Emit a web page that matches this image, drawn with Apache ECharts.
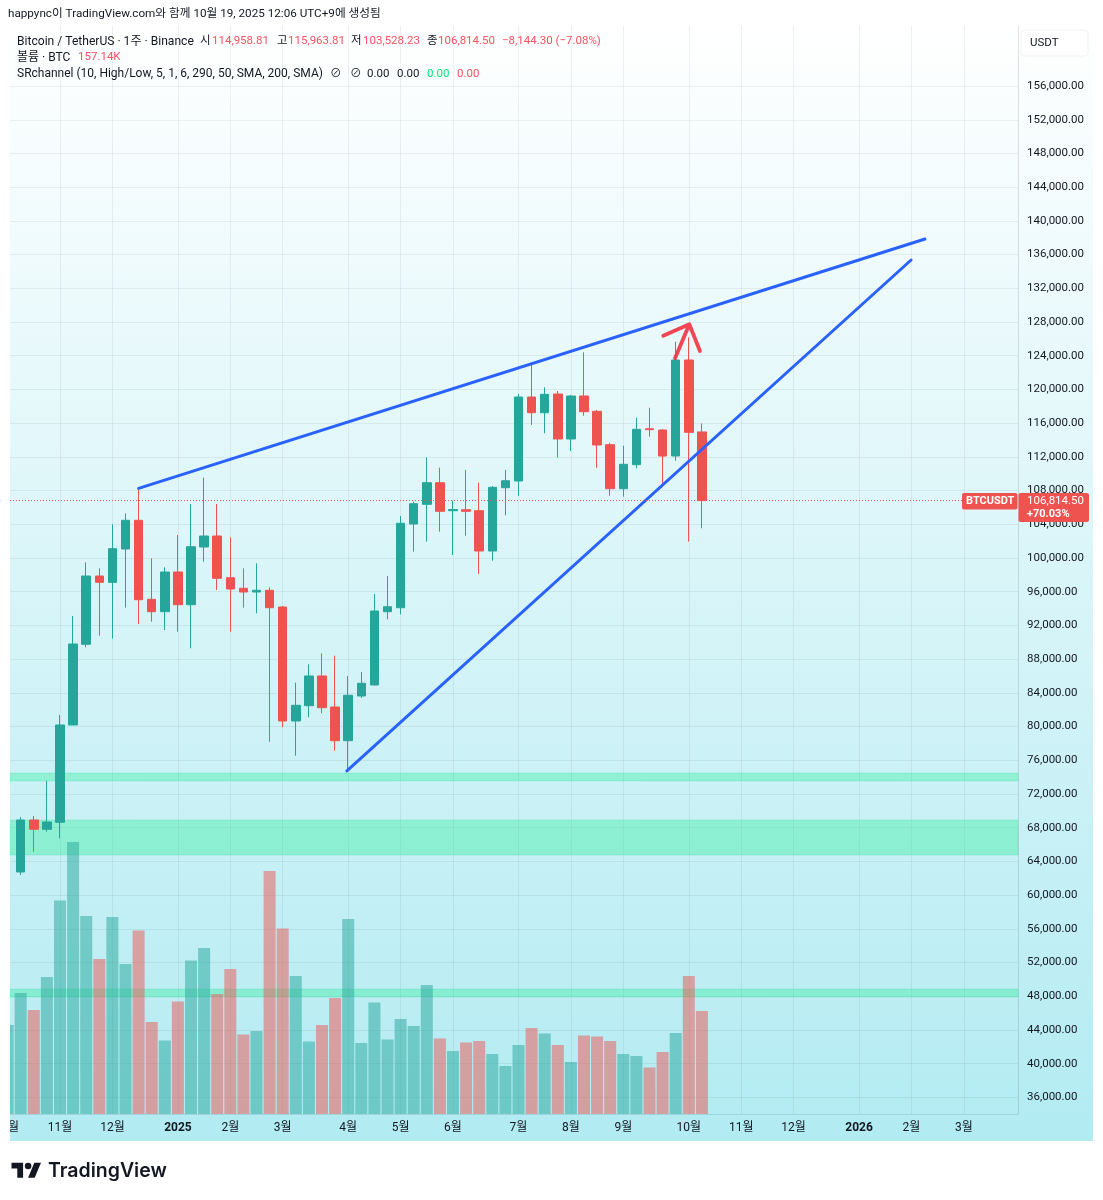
<!DOCTYPE html>
<html><head><meta charset="utf-8">
<style>html,body{margin:0;padding:0;background:#fff}#c{width:1103px;height:1200px}</style>
<script src="https://cdn.jsdelivr.net/npm/echarts@6/dist/echarts.min.js"></script>
</head><body><div id="c"></div>
<script>
// [week index, open, close, low, high]
const candles = [
[0,62744,68914,62388,69270],[1,68914,67811,65155,69389],[2,67811,68677,67526,73577],[3,68641,80186,66743,81372],
[4,80186,89796,80186,93119],[5,89761,97865,89405,99490],[6,97865,97117,90781,98778],[7,97117,101104,90425,103999],
[8,101068,104473,94103,105304],[9,104473,95053,92169,108270],[10,95100,93629,92442,99965],[11,93629,98339,91457,98897],
[12,98339,94459,91256,102729],[13,94459,101341,89286,106407],[14,101305,102611,99561,109528],[15,102611,97592,96203,106407],
[16,97663,96322,91256,102456],[17,96405,95966,94103,98778],[18,95966,96168,93440,99371],[19,96168,94103,78204,96524],
[20,94186,80660,79913,94305],[21,80660,82523,76543,85205],[22,82476,86000,81099,87388],[23,86000,82238,81574,88693],
[24,82321,78323,77136,88408],[25,78323,83710,74640,86000],[26,83627,85133,83389,86474],[27,84932,93712,84900,95729],
[28,93629,94222,92727,97865],[29,94103,104117,93320,104984],[30,104034,106443,100748,106680],[31,106372,108935,101934,111948],
[32,108935,105541,103121,110714],[33,105612,105755,100356,106799],[34,105731,105541,102646,110441],[35,105612,100831,98102,108935],
[36,100831,108389,99680,108543],[37,108341,109172,105067,110441],[38,109136,119103,107392,119459],[39,119103,117240,115781,123173],
[40,117240,119423,114796,120254],[41,119459,114120,111901,119815],[42,114120,119222,112696,119340],[43,119222,117359,116884,124407],
[44,117406,113408,110715,117560],[45,113443,108223,107392,113681],[46,108223,111118,107274,113325],[47,111070,115271,110643,116647],
[48,115342,115223,114392,117833],[49,115187,112103,108863,115271],[50,112103,123493,111545,125664],[51,123493,114915,101934,126187],
[52,114958.81,106814.5,103528.23,115963.81]
];
// volume in thousands of BTC, from week index -1
const volumes = [135.8,184.6,158.7,209,325.7,415,302,236.5,300.5,228.8,280,140.4,112.1,171.6,234.2,253.2,183.1,221.2,121.3,126.6,370.7,283,210.5,110.6,135.8,177,297.5,108.3,170.1,113.7,144.9,134.3,196.8,115.2,96.1,109.1,111.4,91.5,73.2,105.3,131.2,122.8,105.3,79.3,119.8,118.2,111.4,91.5,88.5,70.9,94.6,123.6,210.5,157.14];
const priceTicks = [36000,40000,44000,48000,52000,56000,60000,64000,68000,72000,76000,80000,84000,88000,92000,96000,100000,104000,108000,112000,116000,120000,124000,128000,132000,136000,140000,144000,148000,152000,156000];
const monthTicks = [3,7,12,16,20,25,29,33,38,42,46,51,55,59,64,68,72];
const monthNames = ['11월','12월','2025','2월','3월','4월','5월','6월','7월','8월','9월','10월','11월','12월','2026','2월','3월'];
const zones = [[73542,74491],[64761,68914],[47910,48860]];
const upperTrend = [[9,108270],[69.03,137850]];
const lowerTrend = [[24.9,74730],[67.97,135358]];
const arrowLine = [[49.95,123695],[51.04,127729],[49.05,126376],[51.04,127729],[51.85,124561]];
const lastClose = 106814.5;

const UP='#26a69a',DOWN='#ef5350',INK='#131722';
const FONT='Roboto,"Noto Sans CJK KR",sans-serif';
const RED='#f7525f', GREEN='#00e676';
const legendTexts = [
 ['Bitcoin / TetherUS · 1주 · Binance',17,41.5,INK,12.1],['시',200,41.5,INK,11.5],['114,958.81',212,41.5,RED,11.5],['고',277,41.5,INK,11.5],['115,963.81',288,41.5,RED,11.5],
 ['저',351,41.5,INK,11.5],['103,528.23',363,41.5,RED,11.5],['종',427,41.5,INK,11.5],['106,814.50',438,41.5,RED,11.5],['−8,144.30 (−7.08%)',502,41.5,RED,11.5],
 ['볼륨 · BTC',17,57.5,INK,12],['157.14K',78,57.5,RED,11.5],
 ['SRchannel (10, High/Low, 5, 1, 6, 290, 50, SMA, 200, SMA)',17,74,INK,12],['⊘',330,74,INK,11.5],['⊘',350,74,INK,11.5],
 ['0.00',367,74,INK,11.5],['0.00',397,74,INK,11.5],['0.00',427,74,GREEN,11.5],['0.00',457,74,RED,11.5]
];
const t=(text,x,y,fill,extra)=>({type:'text',z:100,silent:true,x,y,style:Object.assign({text,fill,font:'12px '+FONT,textVerticalAlign:'middle'},extra||{})});
const dirOf = i => { const c=candles.find(k=>k[0]===i); return (!c||c[2]>=c[1])?'rgba(38,166,154,0.5)':'rgba(239,83,80,0.5)'; };
const gridLine='rgba(42,46,57,0.07)';

const chart=echarts.init(document.getElementById('c'),null,{renderer:'canvas',width:1103,height:1200});
chart.setOption({
 animation:false,backgroundColor:'#ffffff',
 grid:{left:10,top:26,width:1008,height:1088,containLabel:false},
 xAxis:{type:'value',min:-0.817,max:76.13,
  axisLine:{show:true,onZero:false,lineStyle:{color:'rgba(42,46,57,0.12)'}},
  axisTick:{show:false,customValues:monthTicks},
  splitLine:{show:true,lineStyle:{color:gridLine}},
  axisLabel:{margin:8,color:INK,fontSize:12,fontFamily:FONT,customValues:[-0.55].concat(monthTicks),showMinLabel:true,showMaxLabel:true,hideOverlap:false,
   formatter:v=>{ if(v<0) return '월'; const n=monthNames[monthTicks.indexOf(v)]; return /^20/.test(n)?'{b|'+n+'}':n; },
   rich:{b:{fontWeight:'bold',fontSize:12,fontFamily:FONT,color:INK}}}},
 yAxis:[{type:'value',position:'right',min:34030,max:163124,
  axisLine:{show:true,onZero:false,lineStyle:{color:'rgba(42,46,57,0.14)'}},
  axisTick:{show:false,customValues:priceTicks},
  splitLine:{show:true,lineStyle:{color:gridLine}},
  axisLabel:{inside:false,margin:9,color:INK,fontSize:11.5,fontFamily:FONT,customValues:priceTicks,hideOverlap:false,showMinLabel:true,showMaxLabel:true,
   formatter:v=>v.toLocaleString('en-US',{minimumFractionDigits:2})}},
  {type:'value',show:false,min:0,max:1660,axisLine:{onZero:false}}],
 series:[
  {type:'bar',name:'볼륨',xAxisIndex:0,yAxisIndex:1,z:2,barWidth:12,
   data:volumes.map((v,k)=>({value:[k-1,v],itemStyle:{color:dirOf(k-1)}})),
   markArea:{silent:true,itemStyle:{color:'rgba(38,238,150,0.36)',borderColor:'rgba(30,210,140,0.18)',borderWidth:1},
    data:zones.map(z=>[{yAxis:(z[0]-34030)/129094*1660},{yAxis:(z[1]-34030)/129094*1660}])}},
  {type:'candlestick',name:'BTCUSDT',xAxisIndex:0,yAxisIndex:0,z:3,barWidth:9,encode:{x:0,y:[1,2,3,4]},
   data:candles,
   itemStyle:{color:UP,color0:DOWN,borderColor:UP,borderColor0:DOWN,borderWidth:1},
   markLine:{silent:true,symbol:'none',label:{show:false},lineStyle:{color:DOWN,type:[1,2],width:1},data:[{yAxis:lastClose}]}},
  {type:'line',z:4,showSymbol:false,symbol:'none',data:upperTrend,lineStyle:{color:'#2962ff',width:3,cap:'round'}},
  {type:'line',z:4,showSymbol:false,symbol:'none',data:lowerTrend,lineStyle:{color:'#2962ff',width:3,cap:'round'}},
  {type:'line',z:5,showSymbol:false,symbol:'none',data:arrowLine,lineStyle:{color:'rgba(242,54,69,0.92)',width:3.8,cap:'round',join:'round'}}
 ],
 graphic:{elements:[
  {type:'rect',z:-10,silent:true,shape:{x:10,y:26,width:1083,height:1115},
   style:{fill:new echarts.graphic.LinearGradient(0,0,0,1,[{offset:0,color:'#ffffff'},{offset:1,color:'#b2ebf2'}])}},
  {type:'rect',z:90,silent:true,shape:{x:0,y:26,width:10,height:1115},style:{fill:'#ffffff'}},
  t('happync이 TradingView.com와 함께 10월 19, 2025 12:06 UTC+9에 생성됨',8,14,INK,{font:'11.7px '+FONT}),
  ...legendTexts.map(a=>t(a[0],a[1],a[2],a[3],{font:a[4]+'px '+FONT})),
  {type:'rect',z:99,silent:true,shape:{x:1021,y:30,width:67,height:26,r:4},style:{fill:'#ffffff',stroke:'rgba(42,46,57,0.06)'}},
  t('USDT',1030,43,INK,{font:'11.5px '+FONT}),
  {type:'rect',z:99,silent:true,shape:{x:962,y:493,width:55.5,height:16.5,r:2},style:{fill:DOWN}},
  t('BTCUSDT',966,501.5,'#ffffff',{font:'bold 11px '+FONT}),
  {type:'rect',z:99,silent:true,shape:{x:1018.5,y:493,width:70.5,height:29,r:2},style:{fill:DOWN}},
  t('106,814.50',1027,501,'#ffffff',{font:'11.5px '+FONT}),
  t('+70.03%',1027,514,'#ffffff',{font:'bold 11px '+FONT}),
  {type:'polygon',z:100,silent:true,shape:{points:[[23.1,1177.7],[17.3,1177.7],[17.3,1168.5],[11.5,1168.5],[11.5,1162.7],[23.1,1162.7]]},style:{fill:INK}},
  {type:'polygon',z:100,silent:true,shape:{points:[[34.7,1177.7],[28.1,1177.7],[34.3,1162.7],[41,1162.7]]},style:{fill:INK}},
  {type:'circle',z:100,silent:true,shape:{cx:28.1,cy:1166,r:3.3},style:{fill:INK}},
  t('TradingView',48,1171,INK,{font:'600 19.5px Inter,'+FONT})
 ]}
});
</script></body></html>
